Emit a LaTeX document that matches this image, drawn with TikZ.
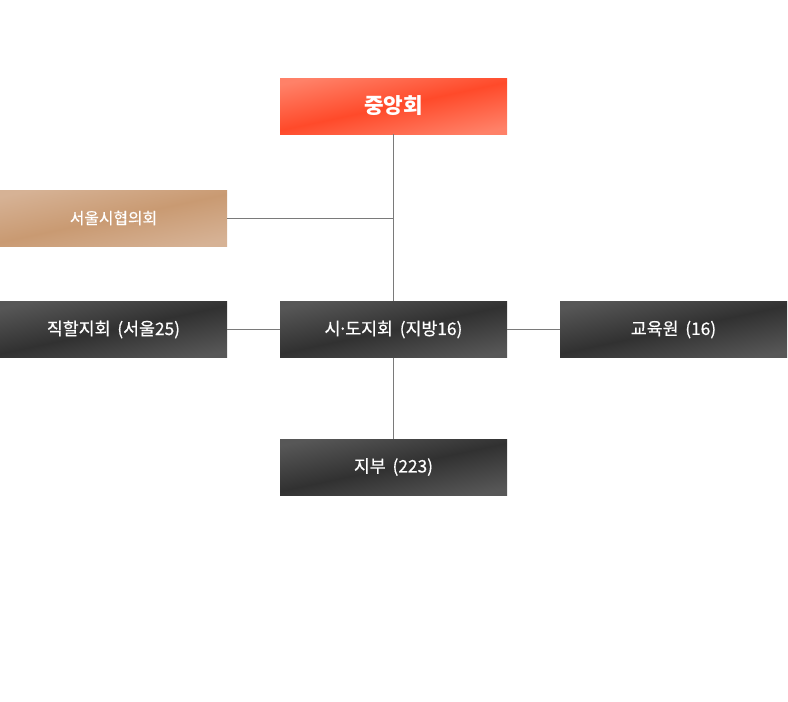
\documentclass[tikz,border=0pt]{standalone}
\usepackage{fontspec}
\setmainfont{Noto Sans CJK KR}
\newfontfamily\medfont[FakeBold=0.5]{Noto Sans CJK KR}

\definecolor{redlight}{HTML}{FF8168}
\definecolor{redmid}{HTML}{FF4A2A}
\definecolor{tanlight}{HTML}{D6B295}
\definecolor{tanmid}{HTML}{C99A72}
\definecolor{darklight}{HTML}{575757}
\definecolor{darkmid}{HTML}{313131}
\definecolor{linkgray}{HTML}{7A7A7A}

\pgfdeclareverticalshading{redshade}{100bp}{color(0bp)=(redlight); color(24bp)=(redlight);
  color(50bp)=(redmid); color(76bp)=(redlight); color(100bp)=(redlight)}
\pgfdeclareverticalshading{tanshade}{100bp}{color(0bp)=(tanlight); color(24bp)=(tanlight);
  color(50bp)=(tanmid); color(76bp)=(tanlight); color(100bp)=(tanlight)}
\pgfdeclareverticalshading{darkshade}{100bp}{color(0bp)=(darklight); color(24bp)=(darklight);
  color(50bp)=(darkmid); color(76bp)=(darklight); color(100bp)=(darklight)}

\tikzset{
  orgbox/.style={minimum width=227pt, minimum height=56pt, inner sep=0pt,
    text=white, font=\medfont\fontsize{17.3}{20}\selectfont},
  topbox/.style={orgbox, shading=redshade, shading angle=12,
    font=\fontsize{21.3}{25}\selectfont\bfseries},
  tanbox/.style={orgbox, shading=tanshade, shading angle=12,
    font=\medfont\fontsize{15.8}{19}\selectfont},
  darkbox/.style={orgbox, shading=darkshade, shading angle=12},
  link/.style={draw=linkgray, line width=0.9pt}
}

\begin{document}
\begin{tikzpicture}[x=1pt, y=-1pt]
  \useasboundingbox (0,0) rectangle (788,702);

  % 1. Define the boxes
  \node[topbox]  (central)  at (393.5,106)   {중앙회};
  \node[tanbox]  (seoulcnc) at (113.5,218)   {서울시협의회};
  \node[darkbox] (direct)   at (113.5,329.5) {직할지회\ \,(서울25)};
  \node[darkbox] (province) at (393.5,329.5) {시\kern-2.5pt·\kern-2.5pt도지회\ \,(지방16)};
  \node[darkbox] (academy)  at (673.5,329.5) {교육원\ \,(16)};
  \node[darkbox] (branch)   at (393.5,467)   {지부\ \,(223)};

  % 2. Junction on the main trunk
  \coordinate (joint) at (central.south |- seoulcnc.east);

  % 3. Draw the links
  \draw[link] (central.south) -- (province.north);
  \draw[link] (seoulcnc.east) -- (joint);
  \draw[link] (direct.east) -- (province.west);
  \draw[link] (province.east) -- (academy.west);
  \draw[link] (province.south) -- (branch.north);
\end{tikzpicture}
\end{document}
